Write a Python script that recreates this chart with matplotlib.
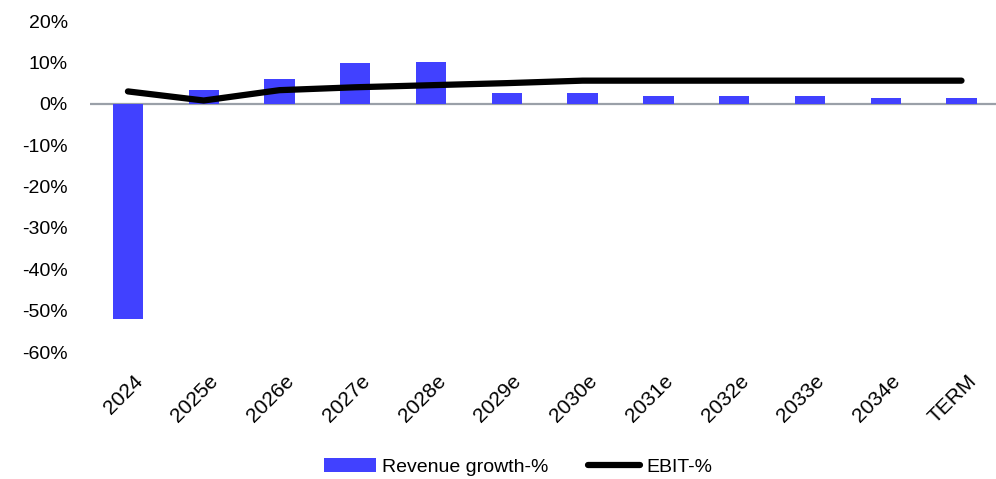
import numpy as np
import matplotlib.pyplot as plt
from matplotlib.transforms import ScaledTranslation

plt.rcParams['font.family'] = ['Liberation Sans', 'DejaVu Sans']

years = ['2024', '2025e', '2026e', '2027e', '2028e', '2029e', '2030e',
         '2031e', '2032e', '2033e', '2034e', 'TERM']
revenue_growth = [-52.0, 3.4, 6.0, 9.9, 10.1, 2.5, 2.5, 2.0, 2.0, 2.0, 1.5, 1.5]
ebit_margin = [3.0, 0.8, 3.3, 4.0, 4.5, 5.0, 5.6, 5.6, 5.6, 5.6, 5.6, 5.6]

fig = plt.figure(figsize=(9.96, 4.79), dpi=100)
ax = fig.add_axes([0.0904, 0.265, 0.913, 0.691])

x = np.arange(len(years))
bars = ax.bar(x, revenue_growth, width=0.4, color='#4141ff', label='Revenue growth-%', zorder=2)
line, = ax.plot(x, ebit_margin, color='black', linewidth=4.5, solid_capstyle='round',
                solid_joinstyle='round', label='EBIT-%', zorder=3)
ax.axhline(0, color='#9aa0a8', linewidth=1.6, zorder=1)

ax.set_xlim(-0.5, 11.5)
ax.set_ylim(-60, 20)
ax.set_yticks(range(-60, 21, 10))
ax.set_yticklabels([f'{v}%' for v in range(-60, 21, 10)], fontsize=14)
ax.set_xticks(x)
ax.set_xticklabels(years, rotation=45, ha='right', rotation_mode='anchor', fontsize=15)
ax.tick_params(axis='both', length=0)
ax.tick_params(axis='y', pad=16)
ax.tick_params(axis='x', pad=14)
# nudge rotated labels a little to the right
for lbl in ax.get_xticklabels():
    lbl.set_transform(lbl.get_transform() + ScaledTranslation(0.05, 0, fig.dpi_scale_trans))
for s in ax.spines.values():
    s.set_visible(False)

fig.legend([bars, line], ['Revenue growth-%', 'EBIT-%'], loc='center',
           bbox_to_anchor=(0.52, 0.025), ncol=2, frameon=False,
           fontsize=14, handlelength=2.7, handletextpad=0.3, columnspacing=2.0)

plt.savefig('out.png', dpi=100)
